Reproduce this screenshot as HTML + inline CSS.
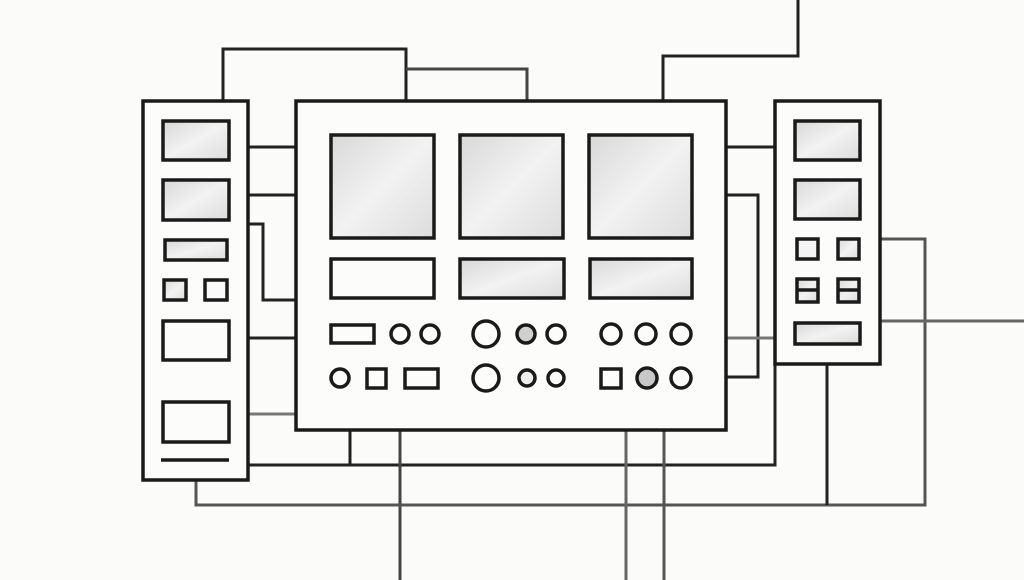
<!DOCTYPE html>
<html><head><meta charset="utf-8"><style>
html,body{margin:0;padding:0;background:#fbfbf9;}
svg{display:block;}
</style></head><body>
<svg width="1024" height="580" viewBox="0 0 1024 580" xmlns="http://www.w3.org/2000/svg">
<defs>
<linearGradient id="g" x1="0" y1="0" x2="1" y2="1">
<stop offset="0" stop-color="#d8d8d8"/><stop offset="0.5" stop-color="#f2f2f2"/><stop offset="1" stop-color="#dcdcdc"/>
</linearGradient>
</defs>
<rect width="1024" height="580" fill="#fbfbf9"/>
<g fill="none" stroke="#222" stroke-width="3">
<!-- top connectors -->
<polyline points="223,101 223,49 406,49 406,101"/>
<polyline points="406,69 527,69 527,101" stroke="#444"/>
<polyline points="663,101 663,56 798,56 798,0"/>
<!-- left-main -->
<line x1="248" y1="147" x2="296" y2="147"/>
<line x1="248" y1="195" x2="296" y2="195"/>
<polyline points="248,224 263,224 263,300 296,300"/>
<line x1="248" y1="338" x2="296" y2="338"/>
<line x1="248" y1="414" x2="296" y2="414" stroke="#777"/>
<!-- main-right -->
<line x1="726" y1="147" x2="775" y2="147"/>
<polyline points="726,195 758,195 758,377 726,377"/>
<line x1="726" y1="338" x2="775" y2="338" stroke="#777"/>
<!-- bottom -->
<polyline points="248,465 775,465 775,364"/>
<line x1="350" y1="430" x2="350" y2="465"/>
<line x1="400" y1="430" x2="400" y2="580" stroke="#444"/>
<polyline points="196,480 196,505 925,505 925,239 880,239" stroke="#555"/>
<line x1="626" y1="430" x2="626" y2="580" stroke="#666"/>
<line x1="664" y1="430" x2="664" y2="580" stroke="#555"/>
<line x1="827" y1="364" x2="827" y2="505"/>
<line x1="880" y1="321" x2="1024" y2="321" stroke="#666"/>
</g>
<g stroke="#1a1a1a" stroke-width="3.5">
<!-- left panel -->
<rect x="143" y="101" width="105" height="379" fill="#fcfcfb"/>
<rect x="163" y="121" width="66" height="39" fill="url(#g)"/>
<rect x="163" y="180" width="66" height="40" fill="url(#g)"/>
<rect x="165" y="240" width="62" height="20" fill="url(#g)"/>
<rect x="164" y="280" width="22" height="20" fill="url(#g)"/>
<rect x="205" y="280" width="22" height="20" fill="#fafafa"/>
<rect x="163" y="321" width="66" height="39" fill="#fcfcfb"/>
<rect x="163" y="402" width="66" height="40" fill="#fcfcfb"/>
<line x1="161" y1="460" x2="229" y2="460"/>
<!-- main -->
<rect x="296" y="101" width="430" height="329" fill="#fcfcfb"/>
<rect x="331" y="135" width="103" height="103" fill="url(#g)"/>
<rect x="460" y="135" width="103" height="103" fill="url(#g)"/>
<rect x="589" y="135" width="103" height="103" fill="url(#g)"/>
<rect x="331" y="259" width="103" height="39" fill="#fcfcfb"/>
<rect x="460" y="259" width="104" height="39" fill="url(#g)"/>
<rect x="590" y="259" width="102" height="39" fill="url(#g)"/>
<rect x="331" y="325" width="43" height="18" fill="#fcfcfb"/>
<circle cx="400" cy="334" r="9" fill="#fcfcfb"/>
<circle cx="430" cy="334" r="9" fill="#fcfcfb"/>
<circle cx="486" cy="334" r="13" fill="#fcfcfb"/>
<circle cx="526" cy="334" r="9" fill="#d0d0d0"/>
<circle cx="556" cy="334" r="9" fill="#fcfcfb"/>
<circle cx="611" cy="334" r="10" fill="#fcfcfb"/>
<circle cx="646" cy="334" r="10" fill="#fcfcfb"/>
<circle cx="681" cy="334" r="10" fill="#fcfcfb"/>
<circle cx="340" cy="378" r="9" fill="#fcfcfb"/>
<rect x="367" y="369" width="19" height="19" fill="#fcfcfb"/>
<rect x="405" y="369" width="33" height="19" fill="#fcfcfb"/>
<circle cx="486" cy="378" r="13" fill="#fcfcfb"/>
<circle cx="527" cy="378" r="8" fill="#eee"/>
<circle cx="556" cy="378" r="8" fill="#fcfcfb"/>
<rect x="601" y="369" width="20" height="19" fill="#fcfcfb"/>
<circle cx="647" cy="378" r="10" fill="#c8c8c8"/>
<circle cx="681" cy="378" r="10" fill="#fcfcfb"/>
<!-- right panel -->
<rect x="775" y="101" width="105" height="263" fill="#fcfcfb"/>
<rect x="795" y="121" width="65" height="39" fill="url(#g)"/>
<rect x="795" y="180" width="65" height="39" fill="url(#g)"/>
<rect x="797" y="239" width="21" height="20" fill="#f4f4f4"/>
<rect x="838" y="239" width="21" height="20" fill="url(#g)"/>
<rect x="797" y="279" width="21" height="23" fill="url(#g)"/>
<line x1="797" y1="290" x2="818" y2="290"/>
<rect x="838" y="279" width="21" height="23" fill="url(#g)"/>
<line x1="838" y1="290" x2="859" y2="290"/>
<rect x="795" y="323" width="65" height="21" fill="url(#g)"/>
</g>
</svg>
</body></html>
